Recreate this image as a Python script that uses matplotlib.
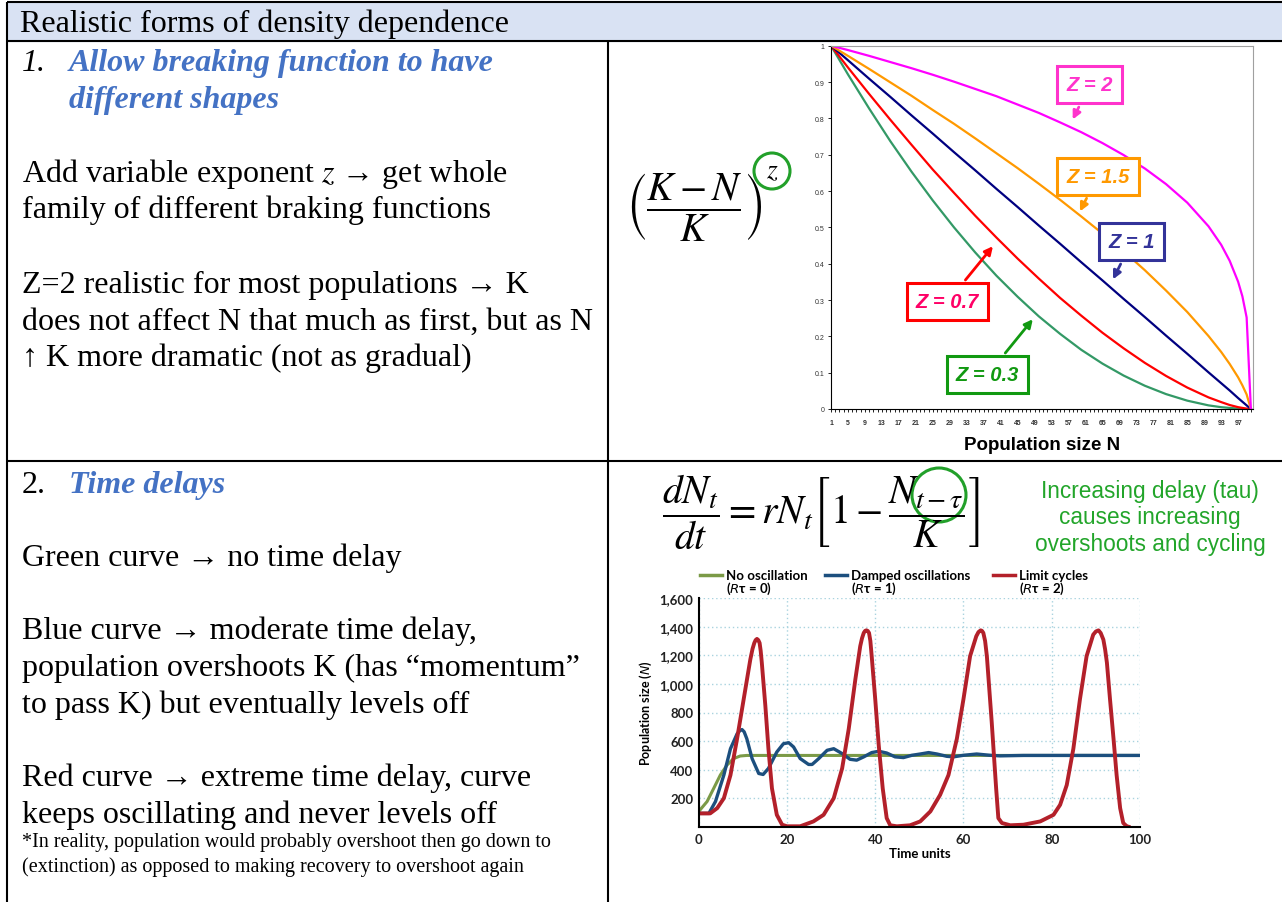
import matplotlib.pyplot as plt
from matplotlib.patches import Rectangle, Circle

plt.rcParams['mathtext.fontset'] = 'stix'

SERIF = ['Liberation Serif', 'DejaVu Serif']
SANS = ['Liberation Sans', 'DejaVu Sans']
CHART = ['Lato', 'DejaVu Sans']
HEAD_BLUE = '#4472C4'

# braking function (K-N)/K raised to z, one list per exponent
N_pts = [1, 5, 10, 15, 20, 25, 30, 35, 40, 45, 50, 55, 60, 65, 70, 75, 80, 85, 90, 93, 95, 97, 98, 99, 100]
brake_z2 = [1.00, 0.988, 0.972, 0.955, 0.938, 0.920, 0.901, 0.881, 0.861, 0.838, 0.815, 0.789, 0.762,
            0.732, 0.699, 0.662, 0.619, 0.568, 0.503, 0.452, 0.408, 0.350, 0.310, 0.252, 0.0]
brake_z15 = [1.00, 0.972, 0.936, 0.899, 0.862, 0.823, 0.785, 0.745, 0.704, 0.663, 0.620, 0.576, 0.530,
             0.483, 0.434, 0.382, 0.326, 0.267, 0.201, 0.157, 0.124, 0.087, 0.065, 0.040, 0.0]
brake_z1 = [1.00, 0.960, 0.909, 0.859, 0.808, 0.758, 0.707, 0.657, 0.606, 0.556, 0.505, 0.455, 0.404,
            0.354, 0.303, 0.253, 0.202, 0.152, 0.101, 0.071, 0.051, 0.030, 0.020, 0.010, 0.0]
brake_z07 = [1.00, 0.940, 0.867, 0.796, 0.727, 0.659, 0.595, 0.532, 0.472, 0.414, 0.359, 0.306, 0.257,
             0.210, 0.167, 0.127, 0.091, 0.059, 0.032, 0.019, 0.011, 0.005, 0.003, 0.001, 0.0]
brake_z03 = [1.00, 0.921, 0.827, 0.737, 0.653, 0.574, 0.500, 0.431, 0.367, 0.309, 0.255, 0.207, 0.163,
             0.125, 0.092, 0.064, 0.041, 0.023, 0.010, 0.005, 0.003, 0.001, 0.0004, 0.0001, 0.0]
brake_series = [(brake_z03, '#339966'), (brake_z07, '#FF0000'), (brake_z1, '#000080'),
                (brake_z15, '#FF9900'), (brake_z2, '#FF00FF')]

x_ticklabels = [str(n) if (n - 1) % 4 == 0 else '' for n in range(1, 101)]
y_ticks = [0, 0.1, 0.2, 0.3, 0.4, 0.5, 0.6, 0.7, 0.8, 0.9, 1.0]
y_ticklabels = ['0', '0.1', '0.2', '0.3', '0.4', '0.5', '0.6', '0.7', '0.8', '0.9', '1']

# z labels: text, label position, arrow tip, text colour, box colour
z_labels = [
    ('Z = 2', (62.0, 0.892), (57.7, 0.79), '#FF33CC', '#FF33CC'),
    ('Z = 1.5', (63.9, 0.641), (59.4, 0.537), '#FF9900', '#FF9900'),
    ('Z = 1', (71.9, 0.460), (67.2, 0.350), '#333399', '#333399'),
    ('Z = 0.7', (28.5, 0.295), (39.6, 0.454), '#FF0066', '#FF0000'),
    ('Z = 0.3', (37.9, 0.094), (49.0, 0.253), '#119911', '#119911'),
]

# delayed logistic growth, three delays
t_green = [0, 1.9, 3.4, 4.9, 6.4, 7.9, 9.4, 10.9, 14, 20, 30, 40, 50, 60, 70, 80, 90, 100]
n_green = [108, 178, 270, 363, 432, 478, 496, 500, 500, 500, 500, 500, 500, 500, 500, 500, 500, 500]

t_blue = [0, 2.3, 3.8, 5.7, 7.2, 8.7, 9.3, 9.8, 10.3, 10.9, 12.1, 13.6, 14.6, 15.8, 17.7, 19.2, 20.4,
          21.5, 23, 24.9, 25.7, 27.2, 29.1, 30.6, 32.5, 34.3, 35.8, 37.4, 39.2, 40.8, 42.6, 44.5,
          46.4, 48.3, 50.2, 52.1, 54, 56.2, 57.7, 60, 63, 66, 68.3, 73.6, 80, 90, 100]
n_blue = [95, 95, 178, 363, 547, 651, 672, 681, 665, 617, 478, 374, 367, 409, 524, 582, 589, 559,
          478, 437, 437, 478, 536, 547, 513, 473, 467, 490, 520, 529, 517, 490, 485, 501, 510, 520,
          510, 494, 490, 501, 510, 501, 497, 500, 500, 500, 500]

t_red = [0, 2.6, 4.2, 5.7, 7.2, 8.7, 10.2, 11.7, 12.2, 12.6, 12.9, 13.2, 13.5, 13.8, 14.05, 14.3,
         15.1, 15.8, 16.6, 17.7, 18.9, 20, 23, 26, 28.3, 30.6, 32.5, 34, 35.5, 36.6, 37.0, 37.4,
         37.7, 38.0, 38.3, 38.6, 38.9, 39.2, 40, 40.8, 41.7, 42.6, 43.4, 44.9, 47.9, 50.2, 52.5,
         54.7, 56.6, 58.5, 60, 61.5, 62.9, 63.4, 63.9, 64.2, 64.5, 64.9, 65.3, 66.4, 67.4, 67.9,
         68.7, 70.6, 73.6, 77.4, 80.4, 81.9, 83.4, 84.9, 86.4, 87.9, 89.4, 90.0, 90.6, 91.1, 91.7,
         92.1, 92.5, 93.2, 94, 94.7, 95.5, 96.2, 97, 97.4]
n_red = [95, 95, 132, 201, 363, 617, 894, 1171, 1245, 1286, 1306, 1314, 1306, 1286, 1230, 1148, 848,
         547, 270, 85, 16, 5, 5, 39, 85, 201, 409, 686, 1032, 1263, 1318, 1356, 1370, 1374, 1370,
         1356, 1300, 1194, 894, 570, 270, 62, 12, 5, 12, 39, 109, 224, 363, 617, 894, 1194, 1333,
         1362, 1374, 1370, 1356, 1300, 1194, 732, 270, 62, 28, 12, 16, 39, 85, 155, 293, 547, 894,
         1194, 1344, 1366, 1374, 1355, 1309, 1240, 1148, 894, 617, 363, 132, 28, 5, 2]

t_ticks = [0, 20, 40, 60, 80, 100]
t_ticklabels = ['0', '20', '40', '60', '80', '100']
n_ticks = [200, 400, 600, 800, 1000, 1200, 1400, 1600]
n_ticklabels = ['200', '400', '600', '800', '1,000', '1,200', '1,400', '1,600']

legend_items = [('No oscillation', '($\\mathit{R}$τ = 0)', '#7b9a47'),
                ('Damped oscillations', '($\\mathit{R}$τ = 1)', '#1c4f7e'),
                ('Limit cycles', '($\\mathit{R}$τ = 2)', '#b3202a')]

W, H = 1282, 903
fig = plt.figure(figsize=(W / 100, H / 100), dpi=100)

# page layer in pixel units (y downwards)
page = fig.add_axes([0, 0, 1, 1])
page.set_xlim(0, W)
page.set_ylim(H, 0)
page.axis('off')

page.add_patch(Rectangle((7, 3), W - 7, 38.5, color='#D9E2F3', zorder=0))
for xs, ys in [([7, W], [3, 3]), ([7, W], [41.5, 41.5]), ([7, W], [462, 462]),
               ([7, 7], [3, H]), ([608, 608], [41.5, H])]:
    page.plot(xs, ys, color='black', lw=1.5, solid_capstyle='butt')


def body(x, y, s, size=23, **kw):
    page.text(x, y, s, fontsize=size, family=SERIF, ha='left', va='baseline', **kw)


body(20, 32, 'Realistic forms of density dependence')
body(22, 71, '1.', style='italic')
body(69, 71, 'Allow breaking function to have', style='italic', weight='bold', color=HEAD_BLUE)
body(69, 108, 'different shapes', style='italic', weight='bold', color=HEAD_BLUE)
body(22, 182, 'Add variable exponent $z$ → get whole')
body(22, 218, 'family of different braking functions')
body(22, 293, 'Z=2 realistic for most populations → K')
body(22, 330, 'does not affect N that much as first, but as N')
body(22, 366, '↑ K more dramatic (not as gradual)')

body(22, 493, '2.')
body(69, 493, 'Time delays', style='italic', weight='bold', color=HEAD_BLUE)
body(22, 566, 'Green curve → no time delay')
body(22, 639, 'Blue curve → moderate time delay,')
body(22, 676, 'population overshoots K (has \u201cmomentum\u201d')
body(22, 713, 'to pass K) but eventually levels off')
body(22, 786, 'Red curve → extreme time delay, curve')
body(22, 823, 'keeps oscillating and never levels off')
body(22, 847, '*In reality, population would probably overshoot then go down to', size=14.5)
body(22, 872, '(extinction) as opposed to making recovery to overshoot again', size=14.5)

# equations
page.text(626, 207, r'$\left(\dfrac{K-N}{K}\right)$', fontsize=28.5, ha='left', va='center')
page.text(772, 170, r'$z$', fontsize=20, ha='center', va='center')
page.add_patch(Circle((772, 172), 18, fill=False, ec='#22a02a', lw=2.2))
page.text(662, 512, r'$\dfrac{dN_t}{dt} = rN_t\left[1-\dfrac{N_{t-\tau}}{K}\right]$',
          fontsize=28.5, ha='left', va='center')
page.add_patch(Circle((939, 496), 27, fill=False, ec='#22a02a', lw=2.2))
for y, s in [(492, 'Increasing delay (tau)'), (518, 'causes increasing'),
             (545, 'overshoots and cycling')]:
    page.text(1150, y, s, fontsize=16.3, family=SANS, color='#22a52a', ha='center', va='center')

# braking functions chart
ax1 = fig.add_axes([831 / W, 1 - 410 / H, 422 / W, 363.3 / H])
for vals, col in brake_series:
    ax1.plot(N_pts, vals, color=col, lw=1.6)
ax1.set_xlim(1, 100.5)
ax1.set_ylim(0, 1)
ax1.set_xticks(range(1, 101))
ax1.set_xticklabels(x_ticklabels, fontsize=5, weight='bold', family=SANS, color='#333333')
ax1.set_yticks(y_ticks)
ax1.set_yticklabels(y_ticklabels, fontsize=5, family=SANS, color='#333333')
ax1.tick_params(length=2.5, width=0.6, pad=2)
ax1.tick_params(axis='x', pad=5)
for side in ['top', 'right']:
    ax1.spines[side].set_color('#A0A0A0')
ax1.set_xlabel('Population size N', fontsize=13.5, weight='bold', family=SANS, labelpad=7)

for txt, pos, tip, tcol, bcol in z_labels:
    ax1.annotate(txt, xy=tip, xytext=pos, ha='center', va='center', fontsize=14.5,
                 weight='bold', style='italic', family=SANS, color=tcol,
                 bbox=dict(boxstyle='square,pad=0.45', fc='white', ec=bcol, lw=2.2),
                 arrowprops=dict(arrowstyle='-|>', color=bcol, lw=2, mutation_scale=12))

# time delay chart
ax2 = fig.add_axes([698.7 / W, 1 - 828 / H, 441.3 / W, 229 / H])
ax2.plot(t_green, n_green, color=legend_items[0][2], lw=2.2, solid_joinstyle='round')
ax2.plot(t_blue, n_blue, color=legend_items[1][2], lw=2.4, solid_joinstyle='round')
ax2.plot(t_red, n_red, color=legend_items[2][2], lw=2.8, solid_joinstyle='round')
ax2.set_xlim(0, 100)
ax2.set_ylim(0, 1600)
ax2.set_xticks(t_ticks)
ax2.set_xticklabels(t_ticklabels)
ax2.set_yticks(n_ticks)
ax2.set_yticklabels(n_ticklabels)
for lab in ax2.get_xticklabels() + ax2.get_yticklabels():
    lab.set_family(CHART)
    lab.set_weight('bold')
    lab.set_fontsize(9.5)
    lab.set_color('#222222')
ax2.tick_params(length=0, pad=4)
ax2.grid(True, ls=(0, (1, 2)), color='#a9d3df', lw=1)
ax2.spines['top'].set_visible(False)
ax2.spines['right'].set_visible(False)
ax2.spines['left'].set_linewidth(1.5)
ax2.spines['bottom'].set_linewidth(1.5)
ax2.set_xlabel('Time units', fontsize=9.5, weight='bold', family=CHART, labelpad=2)
ax2.set_ylabel('Population size ($\\mathit{N}$)', fontsize=9, weight='bold', family=CHART,
               math_fontfamily='dejavusans', labelpad=4)

for (name, rt, col), x0 in zip(legend_items, [700, 825, 993]):
    page.plot([x0, x0 + 22], [576, 576], color=col, lw=2.5)
    page.text(x0 + 26, 576, name, fontsize=9.5, weight='bold', family=CHART, va='center')
    page.text(x0 + 26, 589, rt, fontsize=9.5, weight='bold', family=CHART, va='center',
              math_fontfamily='dejavusans')

fig.savefig('out.png', dpi=100)
